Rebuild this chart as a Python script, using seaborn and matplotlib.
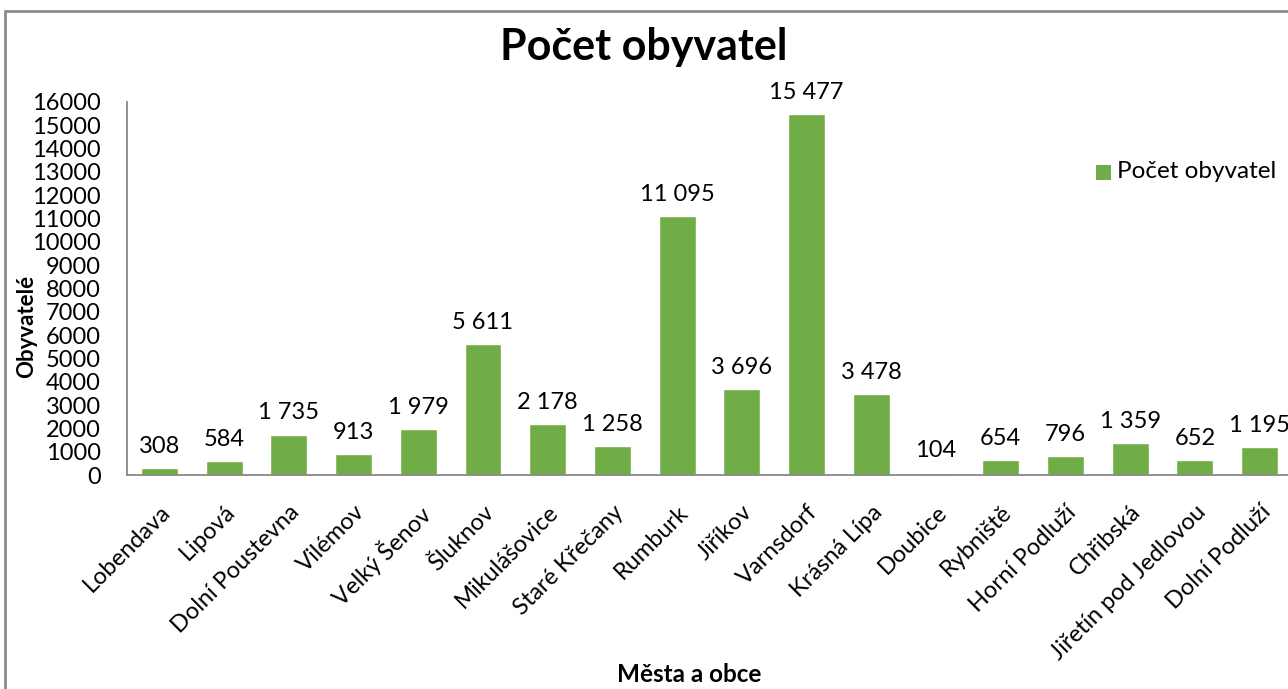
import matplotlib
matplotlib.use("Agg")
import matplotlib.pyplot as plt
import seaborn as sns
import pandas as pd
from matplotlib.patches import Rectangle

categories = ["Lobendava", "Lipová", "Dolní Poustevna", "Vilémov", "Velký Šenov",
              "Šluknov", "Mikulášovice", "Staré Křečany", "Rumburk", "Jiříkov",
              "Varnsdorf", "Krásná Lípa", "Doubice", "Rybniště", "Horní Podluží",
              "Chřibská", "Jiřetín pod Jedlovou", "Dolní Podluží"]
values = [308, 584, 1735, 913, 1979, 5611, 2178, 1258, 11095, 3696,
          15477, 3478, 104, 654, 796, 1359, 652, 1195]
yticks = list(range(0, 16001, 1000))
series_name = "Počet obyvatel"

sns.set_theme(style="white")
plt.rcParams['font.family'] = ['Lato', 'DejaVu Sans']
plt.rcParams['text.color'] = 'black'
plt.rcParams['xtick.color'] = 'black'
plt.rcParams['ytick.color'] = 'black'

df = pd.DataFrame({"Město": categories, "Obyvatelé": values, "s": series_name})

fig = plt.figure(figsize=(12.88, 6.89), dpi=100)
ax = fig.add_axes([127/1288, 1-475/689, (1292-127)/1288, (475-102)/689])
green = "#70AD47"
sns.barplot(data=df, x="Město", y="Obyvatelé", hue="s", palette=[green],
            width=0.57, ax=ax, legend=False, saturation=1)

ax.set_ylim(0, 16000)
ax.set_yticks(yticks)
ax.set_yticklabels([str(t) for t in yticks], fontsize=17, color="black")
ax.set_xticks(range(len(categories)))
ax.set_xticklabels(categories, rotation=45, ha="right", rotation_mode="anchor",
                   fontsize=17, color="black")
ax.tick_params(axis='x', pad=19, length=0)
ax.tick_params(axis='y', pad=19, length=0)
ax.set_xlabel("")
ax.set_ylabel("")
ax.set_xlim(-0.5, len(categories) - 0.5)
for s in ["top", "right"]:
    ax.spines[s].set_visible(False)
for s in ["left", "bottom"]:
    ax.spines[s].set_color("#888888")
    ax.spines[s].set_linewidth(1.3)

for i, v in enumerate(values):
    ax.annotate(f"{v:,}".replace(",", " "), (i, v), xytext=(0, 8),
                textcoords="offset points", ha="center", va="bottom",
                fontsize=17, color="black")

fig.text(0.5, 1-47/689, "Počet obyvatel", ha="center", va="center",
         fontsize=31, fontweight="bold", color="black")
fig.text(27/1288, 1-326/689, "Obyvatelé", rotation=90, ha="center", va="center",
         fontsize=16, fontweight="bold", color="black")
fig.text(689/1288, 1-674/689, "Města a obce", ha="center", va="center",
         fontsize=17.5, fontweight="bold", color="black")

# legend
fig.patches.append(Rectangle((1096/1288, 1-180/689), 15/1288, 15/689,
                             transform=fig.transFigure, facecolor=green, edgecolor="none"))
fig.text(1117/1288, 1-172/689, series_name, ha="left", va="center", fontsize=17.5,
         color="black")

# outer chart border
fig.patches.append(Rectangle((5/1288, -0.05), 1.2, 1-11/689+0.05,
                             transform=fig.transFigure, facecolor="none",
                             edgecolor="#8c8c8c", linewidth=2))

fig.savefig("out.png", dpi=100)
